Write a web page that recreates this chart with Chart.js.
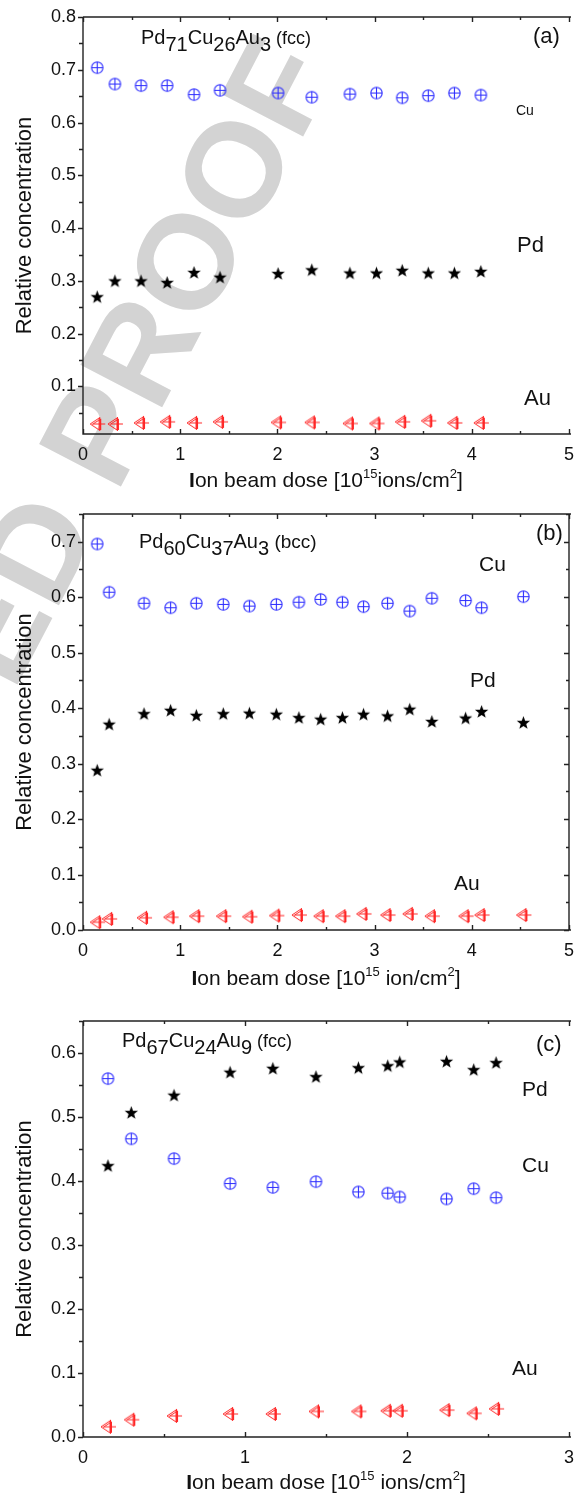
<!DOCTYPE html>
<html>
<head>
<meta charset="utf-8">
<script src="https://cdn.jsdelivr.net/npm/chart.js@4"></script>
<style>
  html, body { margin: 0; padding: 0; background: #fff; }
  #page { position: relative; width: 574px; height: 1493px; overflow: hidden; }
  canvas { position: absolute; left: 0; z-index: 1; }
  #wm {
    position: absolute; z-index: 0;
    width: 2000px; height: 134px; line-height: 134px;
    left: -1713px; top: -21px;
    text-align: right; white-space: nowrap;
    font: bold 134px "Liberation Sans", Arial, sans-serif;
    color: #d3d3d3;
    transform-origin: 100% 50%;
    transform: rotate(-62.5deg);
  }
</style>
</head>
<body>
<div id="page">
  <div id="wm">UNCORRECTED PROOF</div>
  <canvas id="panelA" width="574" height="495" style="top:0px"></canvas>
  <canvas id="panelB" width="574" height="505" style="top:495px"></canvas>
  <canvas id="panelC" width="574" height="493" style="top:1000px"></canvas>
</div>
<script>
// ---- panel (a): Pd71Cu26Au3 (fcc)
const doseA = [0.146, 0.328, 0.597, 0.866, 1.142, 1.41, 2.007, 2.354, 2.746, 3.019, 3.284, 3.552, 3.821, 4.093];
const cuA = [0.704, 0.673, 0.670, 0.670, 0.653, 0.661, 0.656, 0.648, 0.654, 0.656, 0.647, 0.651, 0.656, 0.652];
const pdA = [0.270, 0.300, 0.300, 0.297, 0.316, 0.307, 0.314, 0.321, 0.315, 0.315, 0.320, 0.315, 0.315, 0.318];
const auA = [0.029, 0.029, 0.031, 0.033, 0.031, 0.033, 0.032, 0.032, 0.030, 0.030, 0.033, 0.035, 0.031, 0.031];
const xTicksA = [0, 1, 2, 3, 4, 5];
const yTicksA = [0.1, 0.2, 0.3, 0.4, 0.5, 0.6, 0.7, 0.8];

// ---- panel (b): Pd60Cu37Au3 (bcc)
const doseB = [0.146, 0.269, 0.628, 0.901, 1.166, 1.443, 1.712, 1.989, 2.221, 2.445, 2.669, 2.886, 3.133, 3.361, 3.589, 3.936, 4.101, 4.531];
const cuB = [0.696, 0.609, 0.589, 0.581, 0.589, 0.587, 0.584, 0.587, 0.591, 0.596, 0.591, 0.583, 0.589, 0.575, 0.598, 0.594, 0.581, 0.601];
const pdB = [0.288, 0.371, 0.390, 0.396, 0.387, 0.390, 0.391, 0.389, 0.383, 0.380, 0.383, 0.389, 0.386, 0.398, 0.376, 0.382, 0.394, 0.374];
const auB = [0.014, 0.020, 0.022, 0.023, 0.025, 0.025, 0.024, 0.026, 0.027, 0.025, 0.025, 0.029, 0.027, 0.029, 0.025, 0.025, 0.027, 0.027];
const xTicksB = [0, 1, 2, 3, 4, 5];
const yTicksB = [0.0, 0.1, 0.2, 0.3, 0.4, 0.5, 0.6, 0.7];

// ---- panel (c): Pd67Cu24Au9 (fcc)
const doseC = [0.154, 0.298, 0.562, 0.908, 1.172, 1.438, 1.700, 1.881, 1.955, 2.244, 2.412, 2.550];
const cuC = [0.560, 0.466, 0.435, 0.396, 0.390, 0.399, 0.383, 0.381, 0.375, 0.372, 0.388, 0.374];
const pdC = [0.424, 0.507, 0.534, 0.570, 0.576, 0.563, 0.577, 0.580, 0.586, 0.587, 0.574, 0.585];
const auC = [0.016, 0.027, 0.033, 0.036, 0.036, 0.040, 0.040, 0.041, 0.041, 0.042, 0.037, 0.044];
const xTicksC = [0, 1, 2, 3];
const yTicksC = [0.0, 0.1, 0.2, 0.3, 0.4, 0.5, 0.6];

const BLUE = '#2b2bff';
const RED = '#ff2626';
const AXIS = '#222';
const FONT = '"Liberation Sans", Arial, sans-serif';

// markers
function markCu() {
    const c = document.createElement('canvas');
    c.width = 15; c.height = 15;
    const g = c.getContext('2d');
    g.strokeStyle = BLUE; g.lineWidth = 1.1;
    g.beginPath();
    g.arc(7.5, 7.5, 5.7, 0, Math.PI * 2);
    g.moveTo(1.8, 7.5); g.lineTo(13.2, 7.5);
    g.moveTo(7.5, 1.8); g.lineTo(7.5, 13.2);
    g.stroke();
    return c;
}
function markPd() {
    const c = document.createElement('canvas');
    c.width = 17; c.height = 17;
    const g = c.getContext('2d');
    const R = 7, r = 2.9;
    g.fillStyle = '#000';
    g.beginPath();
    for (let i = 0; i < 10; i++) {
        const ang = -Math.PI / 2 + i * Math.PI / 5;
        const rad = i % 2 ? r : R;
        g.lineTo(8.5 + rad * Math.cos(ang), 9 + rad * Math.sin(ang));
    }
    g.closePath();
    g.fill();
    return c;
}
function markAu() {
    const c = document.createElement('canvas');
    c.width = 18; c.height = 16;
    const g = c.getContext('2d');
    g.strokeStyle = RED; g.lineWidth = 1;
    g.beginPath();
    g.moveTo(2, 8); g.lineTo(11, 2); g.lineTo(11, 14); g.closePath();
    g.moveTo(4, 8.5); g.lineTo(12.5, 3); g.lineTo(12.5, 14);
    g.moveTo(11.5, 1); g.lineTo(11.5, 15);
    g.moveTo(5, 8); g.lineTo(17, 8);
    g.stroke();
    return c;
}
const cuMark = markCu(), pdMark = markPd(), auMark = markAu();

// draws text pieces left to right; parts = [text, size, dy, weight]
function rich(ctx, x, y, parts, align) {
    let w = 0;
    parts.forEach(p => { ctx.font = (p[3] || 'normal') + ' ' + p[1] + 'px ' + FONT; w += ctx.measureText(p[0]).width; });
    let cx = align === 'center' ? x - w / 2 : x;
    parts.forEach(p => {
        ctx.font = (p[3] || 'normal') + ' ' + p[1] + 'px ' + FONT;
        ctx.fillText(p[0], cx, y + (p[2] || 0));
        cx += ctx.measureText(p[0]).width;
    });
}

const decor = {
    id: 'decor',
    afterDraw(chart) {
        const p = chart.options.plugins.decor;
        const ctx = chart.ctx, a = chart.chartArea;
        const xs = chart.scales.x, ys = chart.scales.y;
        ctx.save();
        ctx.strokeStyle = AXIS; ctx.lineWidth = 1.4;
        ctx.beginPath();
        ctx.moveTo(a.left, a.top); ctx.lineTo(a.left, a.bottom); ctx.lineTo(a.right + 2, a.bottom);
        ctx.moveTo(a.left, a.top); ctx.lineTo(a.right + 2, a.top);
        if (p.rightBorder) { ctx.moveTo(a.right, a.top); ctx.lineTo(a.right, a.bottom); }
        // x ticks, inward, bottom and top
        for (let v = xs.min; v <= xs.max + 1e-9; v += 0.5) {
            const px = Math.round(xs.getPixelForValue(v)) + 0.5;
            const len = Math.abs(v - Math.round(v)) < 1e-6 ? 5 : 3;
            ctx.moveTo(px, a.bottom); ctx.lineTo(px, a.bottom - len);
            ctx.moveTo(px, a.top); ctx.lineTo(px, a.top + len);
        }
        // y ticks, outward on the left
        for (let v = Math.ceil(ys.min / 0.05 - 1e-6) * 0.05; v <= ys.max + 1e-9; v += 0.05) {
            const py = Math.round(ys.getPixelForValue(v)) + 0.5;
            const major = Math.abs(v * 10 - Math.round(v * 10)) < 1e-6;
            ctx.moveTo(a.left, py); ctx.lineTo(a.left - (major ? 5 : 4), py);
            if (p.rightBorder) { ctx.moveTo(a.right, py); ctx.lineTo(a.right - (major ? 5 : 3), py); }
        }
        ctx.stroke();

        ctx.fillStyle = '#111';
        ctx.textBaseline = 'alphabetic';
        ctx.textAlign = 'left';
        rich(ctx, p.formula.x, p.formula.y, p.formula.parts);
        p.labels.forEach(l => rich(ctx, l[1], l[2], [[l[0], l[3]]]));
        rich(ctx, (a.left + a.right) / 2, p.xTitleY, p.xTitle, 'center');

        ctx.save();
        ctx.translate(25, (a.top + a.bottom) / 2);
        ctx.rotate(-Math.PI / 2);
        ctx.textAlign = 'center';
        ctx.textBaseline = 'middle';
        ctx.font = '22px ' + FONT;
        ctx.fillText('Relative concentration', 0, 0);
        ctx.restore();
        ctx.restore();
    }
};

function buildPanel(id, d) {
    const pts = ys => d.dose.map((x, i) => ({ x: x, y: ys[i] }));
    const H = document.getElementById(id).height;
    new Chart(document.getElementById(id), {
        type: 'scatter',
        data: {
            datasets: [
                { label: 'Cu', data: pts(d.cu), pointStyle: cuMark },
                { label: 'Pd', data: pts(d.pd), pointStyle: pdMark },
                { label: 'Au', data: pts(d.au), pointStyle: auMark }
            ]
        },
        options: {
            responsive: false,
            animation: false,
            devicePixelRatio: 1,
            layout: { padding: { top: d.top, right: 2, left: 0, bottom: 0 } },
            plugins: {
                legend: { display: false },
                tooltip: { enabled: false },
                decor: d.decor
            },
            scales: {
                x: {
                    type: 'linear', min: 0, max: d.xMax,
                    afterBuildTicks: s => { s.ticks = d.xTicks.map(v => ({ value: v })); },
                    afterFit: s => { s.height = H - d.bottom; s.paddingLeft = 0; s.paddingRight = 0; },
                    grid: { display: false, drawTicks: false },
                    border: { display: false },
                    ticks: { color: '#111', padding: 10, font: { family: FONT, size: 18 }, callback: v => String(v) }
                },
                y: {
                    min: d.yMin, max: d.yMax,
                    afterBuildTicks: s => { s.ticks = d.yTicks.map(v => ({ value: v })); },
                    afterFit: s => { s.width = 83; s.paddingTop = 0; s.paddingBottom = 0; },
                    grid: { display: false, drawTicks: false },
                    border: { display: false },
                    ticks: { color: '#111', padding: 7, font: { family: FONT, size: 18 }, callback: v => v.toFixed(1) }
                }
            }
        },
        plugins: [decor]
    });
}

const sub = (t) => [t, 20, 7];
buildPanel('panelA', {
    dose: doseA, cu: cuA, pd: pdA, au: auA, xTicks: xTicksA, yTicks: yTicksA,
    xMax: 5, yMin: 0.01, yMax: 0.8, top: 17, bottom: 434,
    decor: {
        rightBorder: false,
        formula: { x: 141, y: 44, parts: [['Pd', 20], sub('71'), ['Cu', 20], sub('26'), ['Au', 20], sub('3'), [' (fcc)', 18]] },
        labels: [['(a)', 533, 43, 22], ['Cu', 516, 115, 14], ['Pd', 517, 252, 22], ['Au', 524, 405, 22]],
        xTitleY: 487,
        xTitle: [['I', 21, 0, 'bold'], ['on beam dose [10', 21], ['15', 13, -9], ['ions/cm', 21], ['2', 13, -9], [']', 21]]
    }
});
buildPanel('panelB', {
    dose: doseB, cu: cuB, pd: pdB, au: auB, xTicks: xTicksB, yTicks: yTicksB,
    xMax: 5, yMin: 0, yMax: 0.75, top: 19, bottom: 435,
    decor: {
        rightBorder: true,
        formula: { x: 139, y: 53, parts: [['Pd', 20], sub('60'), ['Cu', 20], sub('37'), ['Au', 20], sub('3'), [' (bcc)', 19]] },
        labels: [['(b)', 536, 45, 22], ['Cu', 479, 76, 21], ['Pd', 470, 192, 21], ['Au', 454, 395, 21]],
        xTitleY: 490,
        xTitle: [['I', 21, 0, 'bold'], ['on beam dose [10', 21], ['15', 13, -9], [' ion/cm', 21], ['2', 13, -9], [']', 21]]
    }
});
buildPanel('panelC', {
    dose: doseC, cu: cuC, pd: pdC, au: auC, xTicks: xTicksC, yTicks: yTicksC,
    xMax: 3, yMin: 0, yMax: 0.65, top: 21, bottom: 437,
    decor: {
        rightBorder: false,
        formula: { x: 122, y: 47, parts: [['Pd', 20], sub('67'), ['Cu', 20], sub('24'), ['Au', 20], sub('9'), [' (fcc)', 18]] },
        labels: [['(c)', 536, 51, 22], ['Pd', 522, 96, 21], ['Cu', 522, 172, 21], ['Au', 512, 375, 21]],
        xTitleY: 489,
        xTitle: [['I', 21, 0, 'bold'], ['on beam dose [10', 21], ['15', 13, -9], [' ions/cm', 21], ['2', 13, -9], [']', 21]]
    }
});
</script>
</body>
</html>
